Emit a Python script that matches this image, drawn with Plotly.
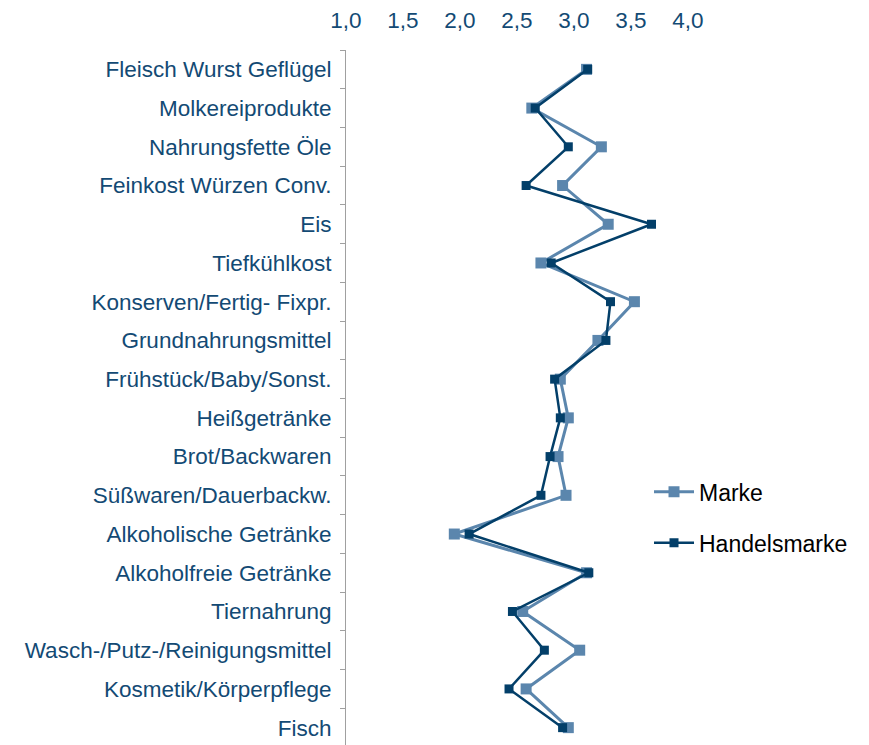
"""Marke vs. Handelsmarke by category."""
import plotly.graph_objects as go

categories = [
    "Fleisch Wurst Geflügel",
    "Molkereiprodukte",
    "Nahrungsfette Öle",
    "Feinkost Würzen Conv.",
    "Eis",
    "Tiefkühlkost",
    "Konserven/Fertig- Fixpr.",
    "Grundnahrungsmittel",
    "Frühstück/Baby/Sonst.",
    "Heißgetränke",
    "Brot/Backwaren",
    "Süßwaren/Dauerbackw.",
    "Alkoholische Getränke",
    "Alkoholfreie Getränke",
    "Tiernahrung",
    "Wasch-/Putz-/Reinigungsmittel",
    "Kosmetik/Körperpflege",
    "Fisch",
]
marke = [3.11, 2.63, 3.24, 2.90, 3.30, 2.71, 3.53, 3.21, 2.88, 2.95,
         2.86, 2.93, 1.95, 3.11, 2.55, 3.05, 2.58, 2.95]
handelsmarke = [3.12, 2.66, 2.95, 2.58, 3.68, 2.80, 3.32, 3.28, 2.83, 2.88,
                2.79, 2.71, 2.08, 3.13, 2.46, 2.74, 2.43, 2.90]
x_ticks = [1.0, 1.5, 2.0, 2.5, 3.0, 3.5, 4.0]
x_tick_labels = ["1,0", "1,5", "2,0", "2,5", "3,0", "3,5", "4,0"]

label_color = "#134a74"
font = "Liberation Sans, Arial, sans-serif"

fig = go.Figure()
fig.add_trace(go.Scatter(
    x=marke, y=categories, name="Marke", mode="lines+markers",
    legendgroup="m",
    line=dict(color="#5b86ad", width=3),
    marker=dict(symbol="square", size=11, color="#5b86ad"),
))
fig.add_trace(go.Scatter(
    x=handelsmarke, y=categories, name="Handelsmarke", mode="lines+markers",
    legendgroup="h",
    line=dict(color="#033f69", width=2.5),
    marker=dict(symbol="square", size=9, color="#033f69"),
))

fig.update_layout(
    width=869, height=745,
    margin=dict(l=338, r=189, t=42, b=6),
    plot_bgcolor="white", paper_bgcolor="white",
    font=dict(family=font, size=22.5, color=label_color),
    xaxis=dict(
        side="top", range=[1.0, 4.0], automargin=False,
        tickvals=x_ticks, ticktext=x_tick_labels,
        showgrid=False, zeroline=False, showline=False,
        ticks="outside", ticklen=12, tickcolor="white",
    ),
    yaxis=dict(
        range=[17.5, -0.5], automargin=False,
        showgrid=False, showline=True, linecolor="#a0a0a0", linewidth=1,
        ticks="outside", tickson="boundaries", ticklen=5,
        tickcolor="#a0a0a0", ticklabelstandoff=9,
    ),
    legend=dict(
        x=0.886, y=0.397, xanchor="left", yanchor="top",
        font=dict(color="black", size=23),
        itemwidth=40, tracegroupgap=18, bgcolor="rgba(0,0,0,0)",
    ),
)

fig.write_html("out.html")
